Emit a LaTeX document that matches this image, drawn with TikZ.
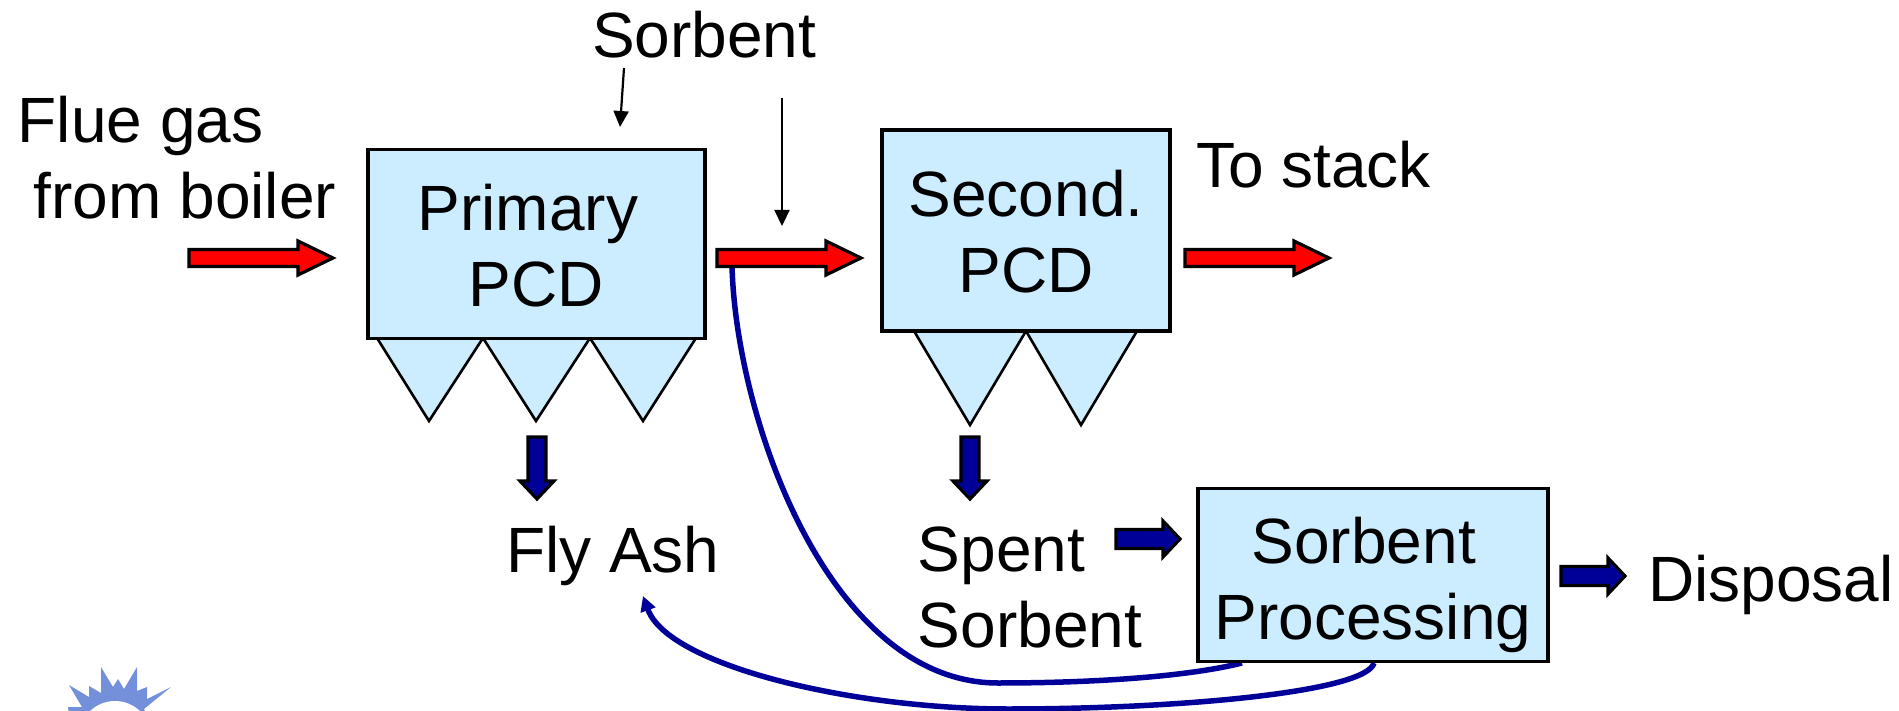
\documentclass[tikz,border=0pt]{standalone}
\usepackage{fontspec}
\setmainfont{Liberation Sans}
\usetikzlibrary{arrows.meta}
\definecolor{boxfill}{HTML}{CCECFF}
\definecolor{flowblue}{HTML}{000099}
\definecolor{logoblue}{HTML}{7590DB}
% block arrow: start point, rotation, length, head length, half shaft, half head, fill
\newcommand{\blockarrow}[7]{%
  \draw[blockline,fill=#7,shift={#1},rotate=#2] (0,-#5) -- (#3-#4,-#5) -- (#3-#4,-#6) -- (#3,0) -- (#3-#4,#6) -- (#3-#4,#5) -- (0,#5) -- cycle;}
\tikzset{
  unit/.style={rectangle,draw=black,line width=3.2pt,fill=boxfill,inner sep=0pt},
  hopper/.style={draw=black,line width=2.6pt,fill=boxfill,line join=miter},
  blockline/.style={draw=black,line width=3.2pt,line join=miter},
  label/.style={inner sep=0pt,font=\fontsize{64}{76}\selectfont},
  feed/.style={black,line width=2.2pt,-{Triangle[length=16pt,width=15pt]}},
  recycle/.style={flowblue,line width=5.5pt},
}
\begin{document}
\begin{tikzpicture}[x=1pt,y=-1pt]
\useasboundingbox (0,0) rectangle (1899,711);
% logo
\begin{scope}
\clip (0,0) rectangle (1899,711);
\fill[logoblue] (69,685) -- (89,697) -- (89,686) -- (101,693) -- (101,667) -- (113,687) -- (118,679) -- (124,689) -- (137,667) -- (137,691) -- (147,687) -- (147,699) -- (171,687) -- (144,709) -- (150,725) -- (70,725) -- (68,707) -- (82,707) -- cycle;
\fill[white] (115,737) circle [radius=36];
\end{scope}
% recycle curves
\coordinate (ashstart) at (732,266);
\coordinate (ashbottom) at (998,683);
\coordinate (ashend) at (1242,663);
\coordinate (sorbstart) at (1374,663);
\coordinate (sorbbottom) at (1008,709);
\coordinate (sorbend) at (643,596);
\draw[recycle] (ashstart) .. controls (736,420) and (830,683) .. (ashbottom) .. controls (1100,683) and (1190,676) .. (ashend);
\draw[recycle,-{Triangle[length=15pt,width=15pt]}] (sorbstart) .. controls (1366,692) and (1180,709) .. (sorbbottom) .. controls (850,709) and (668,665) .. (sorbend);
% hoppers
\draw[hopper] (377,338) -- (429,421) -- (483,338) -- cycle;
\draw[hopper] (483,338) -- (536,421) -- (590,338) -- cycle;
\draw[hopper] (590,338) -- (643,421) -- (696,338) -- cycle;
\draw[hopper] (914,331) -- (970,425) -- (1026,331) -- cycle;
\draw[hopper] (1026,331) -- (1081,425) -- (1137,331) -- cycle;
% units
\node[unit,minimum width=337pt,minimum height=189pt] (primary) at (536.5,244) {};
\node[unit,minimum width=288pt,minimum height=201pt] (second) at (1026,230.5) {};
\node[unit,minimum width=350pt,minimum height=173pt] (proc) at (1373,575) {};
% block arrows
\blockarrow{(189,258)}{0}{144}{35}{8.5}{17}{red}
\blockarrow{(717,258)}{0}{144}{35}{8.5}{17}{red}
\blockarrow{(1185,258)}{0}{144}{35}{8.5}{17}{red}
\blockarrow{(537,437)}{-90}{62}{18}{9}{17}{flowblue}
\blockarrow{(970,437)}{-90}{62}{18}{9}{17}{flowblue}
\blockarrow{(1116,539)}{0}{64}{17}{9.5}{18}{flowblue}
\blockarrow{(1561,576)}{0}{64}{17}{9.5}{18}{flowblue}
% feeds
\coordinate (feedAstart) at (624,68);
\coordinate (feedAend) at (620,127);
\coordinate (feedBstart) at (782,98);
\coordinate (feedBend) at (782,226);
\draw[feed] (feedAstart) -- (feedAend);
\draw[feed] (feedBstart) -- (feedBend);
% labels
\node[label,anchor=base west] (sorbent) at (592,58) {Sorbent};
\node[label,anchor=base west] (tostack) at (1196,188) {To stack};
\node[label,anchor=base west] (flyash) at (506,572) {Fly Ash};
\node[label,anchor=base west] (disposal) at (1648,601) {Disposal};
\node[label,align=left] (flue) at (177,158) {Flue gas\\\hspace*{16pt}from boiler};
\node[label,align=center] (primarytext) at (536,246) {Primary\hspace*{16pt}\\PCD};
\node[label,align=center] (secondtext) at (1026,232) {Second.\\PCD};
\node[label,align=left] (spent) at (1030,587) {Spent\\Sorbent};
\node[label,align=left] (proctext) at (1373,585) {\hspace*{37pt}Sorbent\\Processing};
\end{tikzpicture}
\end{document}
